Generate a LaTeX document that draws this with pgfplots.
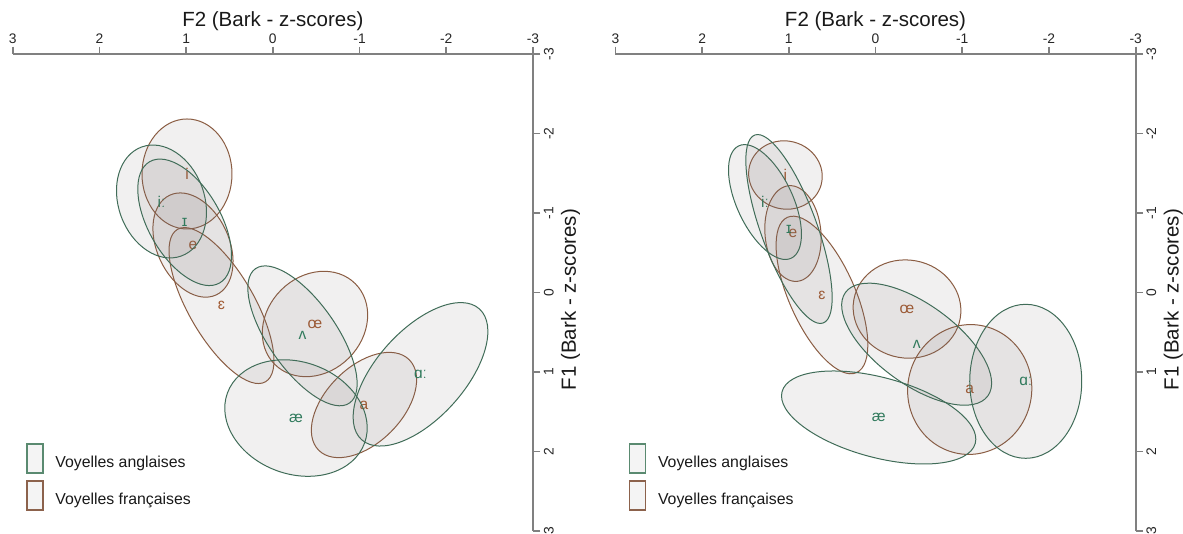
\documentclass[border=0pt]{standalone}
\usepackage{fontspec}
\setmainfont{Liberation Sans}
\usepackage{pgfplots}
\pgfplotsset{compat=1.18}

\definecolor{axisgray}{RGB}{128,128,128}
\definecolor{enedge}{RGB}{64,108,88}
\definecolor{fredge}{RGB}{138,92,66}
\definecolor{enleg}{RGB}{90,138,112}
\definecolor{frleg}{RGB}{140,98,76}
\definecolor{entext}{RGB}{48,122,92}
\definecolor{frtext}{RGB}{160,88,48}
\definecolor{ellfill}{RGB}{120,110,110}

% ellipse mark: semi-axes \ella, \ellb (pt), tilt \ellang (deg), set through mark options
\tikzset{ell/.code n args={3}{\def\ella{#1}\def\ellb{#2}\def\ellang{#3}}}
\pgfdeclareplotmark{vowelellipse}{%
  \pgftransformrotate{\ellang}%
  \pgfpathellipse{\pgfpointorigin}{\pgfpoint{\ella pt}{0pt}}{\pgfpoint{0pt}{\ellb pt}}%
  \pgfusepathqfillstroke}

\pgfplotsset{
  vowel/.style n args={5}{only marks, forget plot, mark=vowelellipse,
    mark options={draw=#1, fill=ellfill, fill opacity=0.1, line width=0.6pt, ell={#3}{#4}{#5}},
    nodes near coords, point meta=explicit symbolic,
    every node near coord/.append style={anchor=center, text=#2, fill opacity=1,
      text opacity=1, font=\fontsize{9.3}{10}\selectfont, inner sep=0pt}},
  en/.style n args={3}{vowel={enedge}{entext}{#1}{#2}{#3}},
  fr/.style n args={3}{vowel={fredge}{frtext}{#1}{#2}{#3}},
  vowelaxis/.style={
    scale only axis, width=312.18pt, height=286.2pt,
    xmin=-3, xmax=3, ymin=-3, ymax=3,
    x dir=reverse, y dir=reverse,
    axis x line=top, axis y line=right,
    axis line style={-, draw=axisgray, line width=1pt},
    every tick/.style={draw=axisgray, line width=1pt},
    tick align=outside, major tick length=4.5pt,
    xtick={-3,-2,...,3}, ytick={-3,-2,...,3},
    /pgf/number format/assume math mode=true,
    ticklabel style={font=\fontsize{8.3}{9}\selectfont, text=black!85},
    xticklabel style={yshift=-1.8pt},
    yticklabel style={rotate=90, anchor=north, yshift=1.5pt},
    xlabel={F2 (Bark - z-scores)}, ylabel={F1 (Bark - z-scores)},
    label style={font=\fontsize{12.3}{14}\selectfont, text=black!90},
    xlabel style={at={(axis description cs:0.5,1)}, anchor=base, yshift=16.8pt},
    ylabel style={at={(axis description cs:1,0.485)}, anchor=base, yshift=-25.8pt},
    clip=false,
    legend style={at={(0.0256,0.1845)}, anchor=north west, draw=none, fill=none,
      inner sep=0pt, row sep=4pt, column sep=7pt,
      font=\fontsize{9.5}{11}\selectfont, text=black!90, nodes={inner sep=0pt}},
    legend cell align=left,
  },
  enlegend/.style={legend image code/.code={\draw[draw=enleg, fill=ellfill,
      fill opacity=0.08, line width=0.8pt] (0pt,-6.2pt) rectangle (9.6pt,11.2pt);}},
  frlegend/.style={legend image code/.code={\draw[draw=frleg, fill=ellfill,
      fill opacity=0.08, line width=0.8pt] (0pt,-6.2pt) rectangle (9.6pt,11.2pt);}},
}

\begin{document}
\begin{tikzpicture}
\useasboundingbox (0,0) rectangle (709.8pt,319.8pt);

% left panel: centre (F2, F1) with the label; a, b (pt) and tilt in the style
\begin{axis}[vowelaxis, at={(7.62pt,1.2pt)}, anchor=south west]
  \addlegendimage{enlegend}
  \addlegendentry{Voyelles anglaises}
  \addlegendimage{frlegend}
  \addlegendentry{Voyelles françaises}
  \addplot[fr={27.0}{33.0}{0}]   coordinates {(0.990,-1.491) [i]};
  \addplot[fr={21.6}{33.0}{25}]  coordinates {(0.921,-0.597) [e]};
  \addplot[fr={19.8}{52.8}{30}]  coordinates {(0.592,0.164) [ɛ]};
  \addplot[fr={34.2}{28.8}{45}]  coordinates {(-0.486,0.396) [œ]};
  \addplot[fr={38.4}{22.8}{45}]  coordinates {(-1.051,1.415) [a]};
  \addplot[en={25.8}{34.8}{20}]  coordinates {(1.284,-1.145) [iː]};
  \addplot[en={21.6}{42.0}{30}]  coordinates {(1.017,-0.883) [ɪ]};
  \addplot[en={20.4}{49.2}{35}]  coordinates {(-0.342,0.545) [ʌ]};
  \addplot[en={52.8}{26.4}{48}]  coordinates {(-1.703,1.029) [ɑː]};
  \addplot[en={43.8}{33.6}{-20}] coordinates {(-0.267,1.579) [æ]};
\end{axis}

% right panel
\begin{axis}[vowelaxis, at={(369.24pt,1.2pt)}, anchor=south west]
  \addlegendimage{enlegend}
  \addlegendentry{Voyelles anglaises}
  \addlegendimage{frlegend}
  \addlegendentry{Voyelles françaises}
  \addplot[fr={22.2}{20.4}{-15}] coordinates {(1.039,-1.478) [i]};
  \addplot[fr={16.8}{28.8}{5}]   coordinates {(0.952,-0.742) [e]};
  \addplot[fr={19.8}{51.0}{24}]  coordinates {(0.618,0.031) [ɛ]};
  \addplot[fr={32.4}{29.4}{-10}] coordinates {(-0.363,0.208) [œ]};
  \addplot[fr={37.2}{39.0}{-10}] coordinates {(-1.086,1.220) [a]};
  \addplot[en={16.8}{37.2}{25}]  coordinates {(1.275,-1.138) [iː]};
  \addplot[en={16.8}{60.0}{20}]  coordinates {(0.998,-0.799) [ɪ]};
  \addplot[en={52.8}{24.0}{-36}] coordinates {(-0.474,0.650) [ʌ]};
  \addplot[en={33.6}{46.2}{0}]   coordinates {(-1.732,1.117) [ɑː]};
  \addplot[en={60.0}{24.0}{-15}] coordinates {(-0.036,1.572) [æ]};
\end{axis}
\end{tikzpicture}
\end{document}
